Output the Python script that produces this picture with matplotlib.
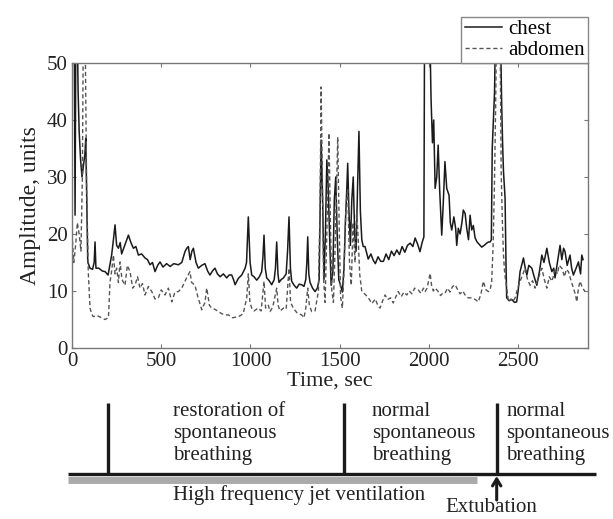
import numpy as np
import matplotlib.pyplot as plt
import matplotlib.transforms as mtransforms

plt.rcParams['font.family'] = ['Liberation Serif', 'DejaVu Serif']

## the data
t_chest = [0, 12, 17, 22, 28, 34, 40, 48, 56, 64, 72, 77, 83, 88, 101, 115, 124, 129, 134, 150,
           170, 185, 202, 212, 222, 232, 241, 250, 260, 270, 278, 295, 316, 330, 344, 358, 372, 390,
           409, 423, 437, 451, 465, 480, 493, 510, 530, 550, 570, 596, 615, 633, 643, 652, 662, 672,
           680, 695, 708, 727, 745, 760, 773, 787, 801, 815, 830, 848, 867, 880, 895, 905, 914, 932,
           951, 970, 978, 988, 998, 1007, 1020, 1035, 1050, 1063, 1070, 1076, 1083, 1091, 1105, 1119,
           1133, 1140, 1147, 1154, 1160, 1172, 1185, 1200, 1208, 1216, 1224, 1231, 1245, 1259, 1273,
           1287, 1300, 1310, 1316, 1321, 1327, 1334, 1348, 1362, 1375, 1385, 1396, 1405, 1412, 1420,
           1428, 1436, 1445, 1452, 1462, 1470, 1478, 1486, 1495, 1505, 1515, 1524, 1532, 1540, 1545,
           1552, 1560, 1568, 1576, 1584, 1592, 1600, 1608, 1616, 1624, 1632, 1642, 1660, 1675, 1688,
           1700, 1715, 1730, 1745, 1760, 1775, 1790, 1805, 1820, 1835, 1850, 1865, 1880, 1895, 1910,
           1923, 1937, 1950, 1962, 1972, 1976, 2003, 2012, 2020, 2027, 2035, 2044, 2052, 2060, 2072,
           2080, 2090, 2100, 2113, 2120, 2128, 2140, 2150, 2156, 2165, 2175, 2185, 2193, 2203, 2212,
           2222, 2231, 2240, 2249, 2259, 2270, 2287, 2296, 2310, 2324, 2334, 2343, 2350, 2355, 2361,
           2368, 2375, 2399, 2408, 2413, 2418, 2427, 2432, 2436, 2450, 2465, 2480, 2492, 2500, 2511,
           2520, 2530, 2540, 2549, 2560, 2577, 2590, 2605, 2620, 2633, 2645, 2661, 2675, 2689, 2700,
           2707, 2720, 2735, 2745, 2755, 2763, 2775, 2791, 2800, 2810, 2825, 2838, 2850, 2857, 2864]
chest = [60, 60, 23.3, 60, 60, 45, 38, 33, 30, 32, 34, 36.8, 25, 15.1, 14, 13.8, 15, 18.6, 14, 14,
         13.5, 13.4, 12.8, 14.5, 16.3, 19, 21.6, 18, 17.5, 18.5, 16.5, 18, 19.8, 18.5, 17.5, 17.8, 16.3,
         16.5, 15.8, 15.5, 14.6, 15, 13.4, 14.5, 15.1, 14.2, 14.8, 14.3, 14.8, 14.6, 15, 16.9, 17.5, 17.8,
         15.5, 17, 17.5, 15, 14, 14.5, 14.8, 13.5, 12.8, 13.5, 14, 13, 12.5, 13, 12.3, 12.8, 12.8, 12,
         11.1, 12.2, 12.8, 14, 15, 23, 15, 12.8, 12.5, 11.9, 12.5, 13.4, 16, 19.8, 14, 12.3, 11.8, 11.1,
         12, 14, 18.6, 13, 11.5, 12, 12.3, 13, 17, 23, 14, 11.7, 11, 10.5, 11.2, 11.1, 10.8, 12, 15, 19.5,
         13, 11.5, 10.5, 9.9, 10.5, 12, 36.5, 25, 12, 20, 33, 28, 18, 11, 13.4, 26, 30, 20, 12, 11, 9.8,
         14, 22, 28, 32.4, 24, 18, 26, 30, 20, 17, 28, 38, 24, 19, 17.8, 17.8, 15.6, 16.5, 15.4, 14.8,
         16, 15.2, 15.2, 16.5, 15.5, 17, 16.2, 17.2, 16.4, 17.8, 16.8, 18, 18.4, 17.8, 19.3, 18.2, 16.9,
         18.5, 19.5, 60, 60, 43.8, 36, 40, 28, 30, 35.6, 28, 19.8, 25, 32.7, 28, 26.8, 22, 20.7, 23, 21,
         18, 21, 20, 22, 24.2, 23.6, 21, 19, 23.3, 20.7, 21.5, 19.3, 18.6, 18, 17.7, 18, 18.4, 18.6,
         18.6, 19, 35, 39.7, 45, 60, 60, 42.6, 36, 31, 26.3, 15, 8.8, 8.3, 8.5, 8.0, 8.1, 10, 13.4, 14.5,
         15.8, 14, 12.8, 14.5, 14, 12.5, 11, 13.5, 16.3, 15, 17.5, 15, 13.4, 14, 12.3, 15, 18, 15.5, 17.5,
         16.9, 14.5, 16.3, 14, 12.8, 14, 15.1, 13, 16.3, 15.5]

t_abdomen = [0, 10, 20, 30, 40, 50, 58, 64, 72, 78, 82, 88, 91, 96, 101, 110, 119, 140, 166, 185,
             204, 210, 213, 222, 232, 241, 250, 260, 269, 280, 297, 310, 325, 340, 353, 367, 381, 395,
             409, 428, 447, 465, 484, 500, 521, 540, 559, 577, 596, 615, 633, 645, 661, 670, 689, 705,
             727, 745, 755, 770, 783, 800, 820, 840, 860, 876, 900, 932, 950, 960, 979, 988, 997, 1007,
             1020, 1044, 1060, 1076, 1085, 1100, 1110, 1125, 1147, 1155, 1166, 1185, 1200, 1216, 1225,
             1240, 1260, 1287, 1300, 1310, 1321, 1330, 1343, 1362, 1381, 1390, 1396, 1403, 1410, 1418,
             1428, 1440, 1448, 1456, 1465, 1475, 1489, 1497, 1505, 1515, 1525, 1535, 1545, 1555, 1565,
             1575, 1586, 1595, 1604, 1612, 1624, 1640, 1661, 1680, 1700, 1713, 1726, 1740, 1754, 1770,
             1785, 1800, 1815, 1828, 1845, 1860, 1876, 1890, 1905, 1920, 1940, 1955, 1970, 1979, 1990,
             2000, 2007, 2015, 2025, 2035, 2050, 2065, 2077, 2090, 2105, 2118, 2133, 2147, 2160, 2175,
             2190, 2203, 2220, 2240, 2260, 2277, 2292, 2305, 2320, 2334, 2345, 2352, 2360, 2367, 2374,
             2380, 2398, 2405, 2412, 2418, 2425, 2431, 2446, 2460, 2472, 2483, 2498, 2511, 2525, 2539,
             2553, 2567, 2581, 2595, 2610, 2620, 2633, 2647, 2661, 2675, 2689, 2700, 2707, 2720, 2730,
             2745, 2760, 2770, 2782, 2795, 2810, 2820, 2829, 2838, 2847, 2860, 2875]
abdomen = [20, 15, 18, 22, 20, 17, 30, 60, 60, 40, 28, 18, 13.4, 10, 7, 6, 5.5, 5.7, 5.3, 5.0,
           5.3, 9.6, 11.6, 13.5, 16.3, 13, 14, 11.5, 15.1, 12, 11, 14.5, 13.4, 10.5, 11, 12.5, 10.5,
           11.3, 9.3, 10.8, 9.9, 8.6, 8.8, 10.2, 9.3, 10.5, 8.1, 9.8, 9.9, 10.5, 11.7, 12.5, 13.4, 11.5,
           11, 9, 6.7, 8, 10.5, 7.5, 7, 6.8, 6.4, 6.0, 5.8, 5.8, 5.3, 5.5, 5.8, 6.1, 8.8, 13, 8, 7, 6.5,
           7, 6.5, 11.7, 7, 7.5, 6.4, 7.2, 10.5, 7.5, 6.5, 7.0, 6.8, 14, 8, 7, 6.2, 5.8, 5.3, 7, 10.5,
           7.5, 6.4, 6.5, 10, 25, 45.8, 30, 12, 8, 20, 37.7, 22, 10, 8, 18, 37, 22, 9, 7, 14, 25, 28, 15,
           11, 22, 15, 24, 19, 13, 9.9, 9.5, 8.8, 7.8, 8.6, 7.5, 7.0, 8.2, 9.3, 8.5, 8.8, 7.9, 9, 9.9,
           9.0, 9.8, 9.3, 10, 9.5, 10.5, 10.2, 9.6, 10.5, 9.9, 10.5, 12, 13.1, 11, 10, 10.5, 10, 9.2,
           9.6, 9.6, 10.5, 9.8, 10.8, 11.1, 10.3, 9.5, 10, 9.3, 8.8, 8.8, 8.5, 8.1, 9.5, 11.7, 10.2, 9.9,
           10.5, 11.7, 18, 28, 42, 60, 60, 31, 22, 16.3, 13, 11.7, 8.1, 8.6, 8.2, 8.8, 10.5, 11.7, 12.8,
           14, 12, 11, 11.8, 10.5, 12, 12.8, 14, 12, 10.5, 12.5, 11.7, 12.8, 14, 13, 14.5, 14, 12.5,
           13.8, 13.4, 12, 10.5, 9.5, 8.1, 10.5, 11.7, 10.6, 9.9]

# phases under the time axis
events = [200, 1525, 2380]
phase_text = ['restoration of\nspontaneous\nbreathing',
              'normal\nspontaneous\nbreathing',
              'normal\nspontaneous\nbreathing']
phase_x = [565, 1680, 2433]
hfjv_span = [-22, 2270]
timeline_span = [-22, 2935]

fig = plt.figure(figsize=(6.13, 5.19), dpi=100)
ax = fig.add_axes([0.1175, 0.3295, 0.8418, 0.5491])

ax.plot(t_chest, chest, color='#1a1a1a', lw=1.1, label='chest')
ax.plot(t_abdomen, abdomen, color='#555555', lw=1.0, ls=(0, (3, 2)), label='abdomen')

# axes and labels
ax.set_xlim(0, 2892)
ax.set_ylim(0, 50)
ax.set_xticks(np.arange(0, 2501, 500))
ax.set_yticks(np.arange(0, 51, 10))
ax.tick_params(direction='in', top=True, right=True, length=3, color='#777777',
               labelsize=15, labelcolor='#222222', pad=3)
for s in ax.spines.values():
    s.set_color('#777777')
    s.set_linewidth(1.0)
ax.set_xlabel('Time, sec', fontsize=16, color='#222222', labelpad=0)
ax.set_ylabel('Amplitude, units', fontsize=17, color='#222222', labelpad=4)

leg = ax.legend(loc='lower right', bbox_to_anchor=(1.0, 1.0), borderaxespad=0,
                fontsize=15, fancybox=False, edgecolor='#888888', framealpha=1,
                handlelength=1.8, handletextpad=0.3, borderpad=0.15, labelspacing=0.05)
leg.get_frame().set_linewidth(1.0)

# timeline below the axes: x in data units, y in figure units
tr = mtransforms.blended_transform_factory(ax.transData, fig.transFigure)
y_line = 1 - 474 / 519
y_top = 1 - 403 / 519
ax.plot(timeline_span, [y_line, y_line], transform=tr, clip_on=False,
        color='#1a1a1a', lw=2.4, solid_capstyle='butt')
ax.plot(hfjv_span, [1 - 479.5 / 519] * 2, transform=tr, clip_on=False,
        color='#aaaaaa', lw=5, solid_capstyle='butt')
for e in events:
    ax.plot([e, e], [y_line, y_top], transform=tr, clip_on=False,
            color='#1a1a1a', lw=2.4, solid_capstyle='butt')
for x, txt in zip(phase_x, phase_text):
    ax.text(x, 1 - 402 / 519, txt, transform=tr, fontsize=15, color='#222222',
            ha='left', va='top', linespacing=1.2)
ax.text(phase_x[0], 1 - 495 / 519, 'High frequency jet ventilation', transform=tr,
        fontsize=15, color='#222222', ha='left', va='center')
ax.annotate('', xy=(events[2], 1 - 476 / 519), xytext=(events[2], 1 - 500 / 519),
            xycoords=tr, textcoords=tr,
            arrowprops=dict(arrowstyle='->,head_length=0.5,head_width=0.3', lw=2.2,
                            color='#1a1a1a', shrinkA=0, shrinkB=0))
ax.text(events[2] - 30, 1 - 508 / 519, 'Extubation', transform=tr, fontsize=15,
        color='#222222', ha='center', va='center')

fig.savefig('out.png', dpi=100)
